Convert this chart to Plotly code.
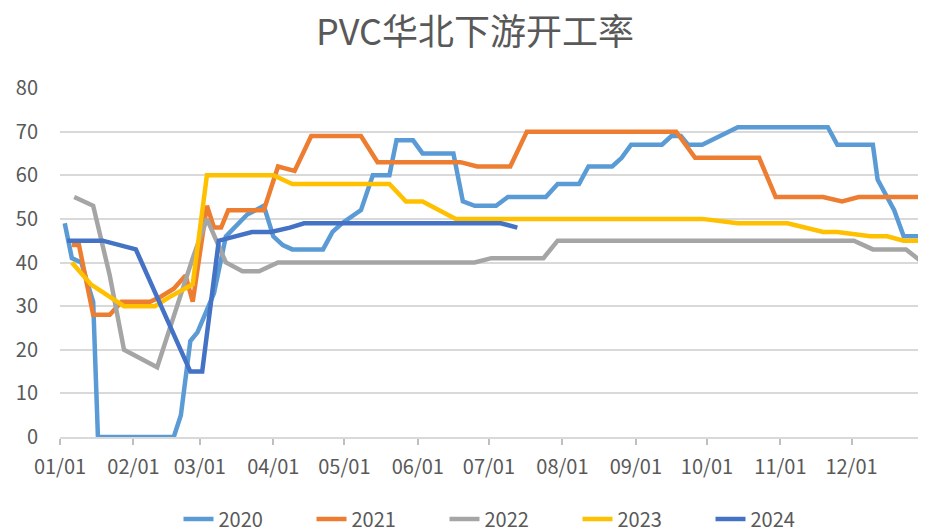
import plotly.graph_objects as go

YEAR = "2021"

d2020 = ["01-03","01-06","01-10","01-15","01-17","02-18","02-21","02-25","02-28","03-07","03-12","03-21","03-28","04-01","04-05","04-09","04-22","04-26","04-30","05-08","05-13","05-20","05-23","05-30","06-03","06-16","06-20","06-25","07-04","07-09","07-25","07-30","08-08","08-12","08-22","08-26","08-30","09-12","09-16","09-20","09-23","09-29","10-14","11-21","11-25","12-10","12-12","12-19","12-23","12-31"]
v2020 = [49,41,40,31,0,0,5,22,24,33,46,51,53,46,44,43,43,47,49,52,60,60,68,68,65,65,54,53,53,55,55,58,58,62,62,64,67,67,69,69,67,67,71,71,67,67,59,52,46,46]

d2021 = ["01-06","01-09","01-15","01-22","01-27","02-08","02-12","02-18","02-23","02-26","03-04","03-07","03-10","03-13","03-28","04-03","04-10","04-17","05-08","05-15","06-19","06-26","07-10","07-17","09-18","09-26","10-23","10-30","11-19","11-27","12-04","12-31"]
v2021 = [44,44,28,28,31,31,32,34,37,31,53,48,48,52,52,62,61,69,69,63,63,62,62,70,70,64,64,55,55,54,55,55]

d2022 = ["01-07","01-15","01-22","01-28","02-11","02-26","03-04","03-12","03-19","03-26","04-03","06-25","07-02","07-24","07-30","12-02","12-10","12-24","12-31"]
v2022 = [55,53,37,20,16,41,50,40,38,38,40,40,41,41,45,45,43,43,40]

d2023 = ["01-06","01-14","01-28","02-10","02-16","02-26","03-04","04-01","04-09","05-20","05-27","06-03","06-17","09-29","10-14","11-04","11-19","11-25","12-09","12-16","12-23","12-31"]
v2023 = [40,35,30,30,32,35,60,60,58,58,54,54,50,50,49,49,47,47,46,46,45,45]

d2024 = ["01-04","01-19","02-02","02-25","03-02","03-09","03-23","03-31","04-08","04-14","07-06","07-13"]
v2024 = [45,45,43,15,15,45,47,47,48,49,49,48]

series_names = ["2020", "2021", "2022", "2023", "2024"]
series_dates = [d2020, d2021, d2022, d2023, d2024]
series_vals = [v2020, v2021, v2022, v2023, v2024]
colors = ["#5B9BD5", "#ED7D31", "#A5A5A5", "#FFC000", "#4472C4"]

tick_dates = ["01-01","02-01","03-01","04-01","05-01","06-01","07-01","08-01","09-01","10-01","11-01","12-01"]
tick_labels = ["01/01","02/01","03/01","04/01","05/01","06/01","07/01","08/01","09/01","10/01","11/01","12/01"]

FONT = "Noto Sans CJK SC"
GRAY = "#595959"
W, H = 918, 524  # page body adds an 8px offset

fig = go.Figure()
for name, ds, vs, c in zip(series_names, series_dates, series_vals, colors):
    fig.add_trace(go.Scatter(
        x=[f"{YEAR}-{d}" for d in ds], y=vs, name=name, mode="lines",
        line=dict(color=c, width=4.5), hoverinfo="x+y+name"))

tickvals = [f"{YEAR}-{d}" for d in tick_dates] + ["2022-01-01"]
ticktext = tick_labels + [""]

fig.update_layout(
    width=W, height=H,
    margin=dict(l=52, r=1, t=80, b=95, autoexpand=False),
    paper_bgcolor="white", plot_bgcolor="white",
    font=dict(family=FONT, color=GRAY, size=20),
    title=dict(text="PVC华北下游开工率", x=467/W, xanchor="center", xref="container",
               y=1 - 24/H, yanchor="middle", yref="container",
               font=dict(family=FONT, size=36, color=GRAY)),
    showlegend=True,
    legend=dict(orientation="h", x=503/W, xanchor="center", xref="container",
                y=(H - 511)/H, yanchor="middle", yref="container",
                font=dict(family=FONT, size=20, color=GRAY),
                entrywidth=88, entrywidthmode="pixels",
                traceorder="normal"),
    xaxis=dict(type="date", range=[f"{YEAR}-01-01", "2022-01-01"],
               tickvals=tickvals, ticktext=ticktext, automargin=False,
               showgrid=False, showline=True, linecolor="#D9D9D9", linewidth=1.5,
               ticks="outside", ticklen=6, tickcolor="#BFBFBF", tickwidth=1.5,
               ticklabelstandoff=5,
               tickfont=dict(family=FONT, size=20, color=GRAY), zeroline=False),
    yaxis=dict(range=[0, 80], dtick=10, showgrid=True, gridcolor="#D9D9D9", gridwidth=1.5,
               zeroline=False, showline=False, ticks="", automargin=False,
               tickfont=dict(family=FONT, size=20, color=GRAY), ticklabelstandoff=21),
)

fig.write_html("out.html")
